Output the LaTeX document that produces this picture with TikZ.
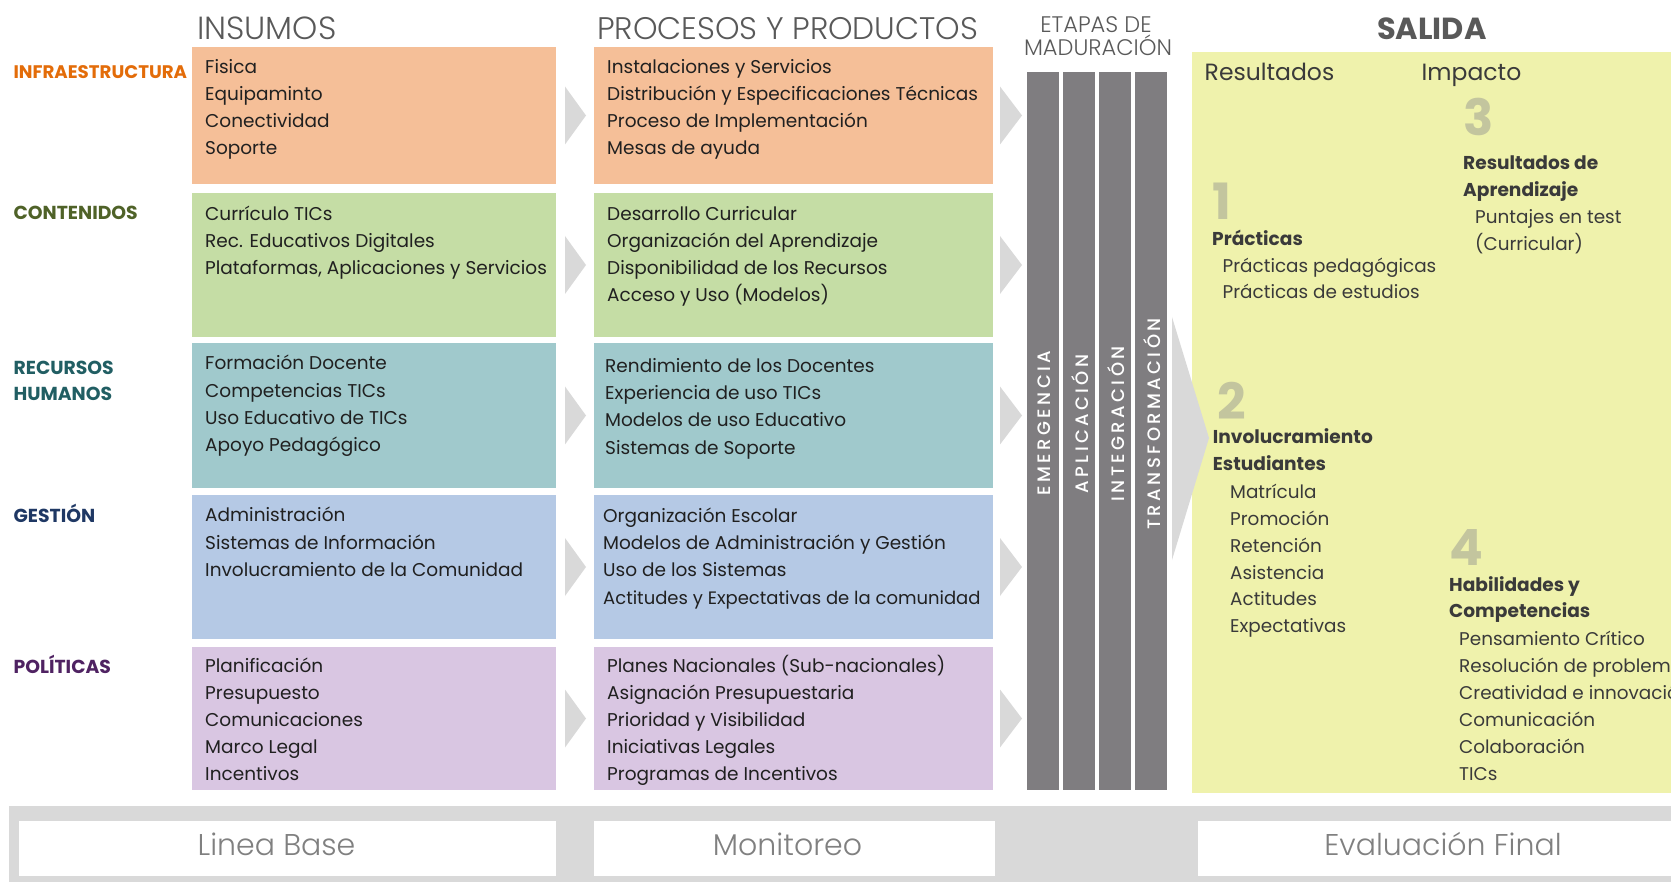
\documentclass[tikz,border=0pt]{standalone}
\usepackage{fontspec}
\setmainfont{Poppins}
\newfontfamily\lightfont{Poppins Light}
\newfontfamily\medfont{Poppins Medium}
\definecolor{orngbox}{HTML}{F5BF98}
\definecolor{grnbox}{HTML}{C5DDA5}
\definecolor{tealbox}{HTML}{A0C9CC}
\definecolor{bluebox}{HTML}{B5C9E5}
\definecolor{purpbox}{HTML}{D9C6E2}
\definecolor{yelbox}{HTML}{EFF2AC}
\definecolor{barc}{HTML}{7F7D80}
\definecolor{chevc}{HTML}{D9D9D9}
\definecolor{bandc}{HTML}{D9D9D9}
\definecolor{hdrc}{HTML}{595959}
\definecolor{txtc}{HTML}{202020}
\definecolor{numc}{HTML}{C3C59E}
\definecolor{lblorng}{HTML}{E36C09}
\definecolor{lblgrn}{HTML}{4F6228}
\definecolor{lblteal}{HTML}{215E63}
\definecolor{lblblue}{HTML}{1F3864}
\definecolor{lblpurp}{HTML}{4F2262}
\definecolor{btmtxt}{HTML}{808080}
\definecolor{saltxt}{HTML}{3A3A3A}
\newcommand\itemlines[5]{%
  \foreach \t [count=\i from 0] in {#5}{\node[itm] (#1\i) at (#2,{#3+#4*\i}) {\t};}}
\newcommand\sallines[5]{%
  \foreach \t [count=\i from 0] in {#5}{\node[salitm] (#1\i) at (#2,{#3+#4*\i}) {\t};}}
\begin{document}
\begin{tikzpicture}[x=1pt,y=-1pt,
  box/.style={draw=none, inner sep=0pt, anchor=north west},
  itm/.style={anchor=base west, inner sep=0pt, text=txtc, font=\fontsize{18.5}{18.5}\selectfont},
  salitm/.style={anchor=base west, inner sep=0pt, text=saltxt, font=\fontsize{18.4}{18.4}\selectfont},
  salbold/.style={anchor=base west, inner sep=0pt, text=saltxt, font=\bfseries\fontsize{18.6}{18.6}\selectfont},
  salnum/.style={anchor=base west, inner sep=0pt, text=numc, font=\bfseries\fontsize{50}{50}\selectfont},
  lbl/.style={anchor=base west, inner sep=0pt, font=\bfseries\fontsize{18.8}{18.8}\selectfont},
  hdr/.style={anchor=base west, inner sep=0pt, text=hdrc, font=\lightfont\fontsize{32}{32}\selectfont},
  hdrs/.style={anchor=base, inner sep=0pt, text=hdrc, font=\lightfont\fontsize{22.5}{22.5}\selectfont},
  stage/.style={rotate=90, inner sep=0pt, text=white, font=\medfont\fontsize{18}{18}\selectfont\addfontfeatures{LetterSpace=19}},
  btm/.style={anchor=base, inner sep=0pt, text=btmtxt, font=\lightfont\fontsize{30}{30}\selectfont},
  chev/.style={fill=chevc, draw=none},
  barbox/.style={box, fill=barc, minimum width=32pt, minimum height=718pt}
]
\useasboundingbox (0,0) rectangle (1671,882);
\clip (0,0) rectangle (1671,882);

% headers
\node[hdr] (hIns) at (197,40) {INSUMOS};
\node[hdr, font=\lightfont\fontsize{31.2}{31.2}\selectfont] (hProc) at (597,40) {PROCESOS Y PRODUCTOS};
\node[hdrs] (hEt1) at (1096,33) {ETAPAS DE};
\node[hdrs] (hEt2) at (1098,56) {MADURACIÓN};
\node[anchor=base west, inner sep=0pt, text=hdrc, font=\bfseries\fontsize{30.5}{30.5}\selectfont] (hSal) at (1377,39.3) {SALIDA};

% input boxes
\node[box, fill=orngbox, minimum width=364pt, minimum height=137pt] (b11) at (192,47) {};
\node[box, fill=grnbox,  minimum width=364pt, minimum height=144pt] (b21) at (192,193) {};
\node[box, fill=tealbox, minimum width=364pt, minimum height=145pt] (b31) at (192,343) {};
\node[box, fill=bluebox, minimum width=364pt, minimum height=144pt] (b41) at (192,495) {};
\node[box, fill=purpbox, minimum width=364pt, minimum height=143pt] (b51) at (192,647) {};
% process boxes
\node[box, fill=orngbox, minimum width=399pt, minimum height=137pt] (b12) at (594,47) {};
\node[box, fill=grnbox,  minimum width=399pt, minimum height=144pt] (b22) at (594,193) {};
\node[box, fill=tealbox, minimum width=399pt, minimum height=145pt] (b32) at (594,343) {};
\node[box, fill=bluebox, minimum width=399pt, minimum height=144pt] (b42) at (594,495) {};
\node[box, fill=purpbox, minimum width=399pt, minimum height=143pt] (b52) at (594,647) {};

% row labels
\node[lbl, text=lblorng, font=\bfseries\fontsize{18.2}{18.2}\selectfont] (l1) at (13.4,78.3) {INFRAESTRUCTURA};
\node[lbl, text=lblgrn] (l2) at (13.4,220) {CONTENIDOS};
\node[lbl, text=lblteal] (l3a) at (13.4,375) {RECURSOS};
\node[lbl, text=lblteal] (l3b) at (13.4,400.7) {HUMANOS};
\node[lbl, text=lblblue] (l4) at (13.4,522) {GESTIÓN};
\node[lbl, text=lblpurp] (l5) at (13.4,673) {POLÍTICAS};

% texts column 1
\itemlines{ta}{205}{74}{26.8}{Fisica, Equipaminto, Conectividad, Soporte}
\itemlines{tb}{205}{220.7}{27}{Currículo TICs, Rec. Educativos Digitales, {Plataformas, Aplicaciones y Servicios}}
\itemlines{tc}{205}{370}{27.2}{Formación Docente, Competencias TICs, Uso Educativo de TICs, Apoyo Pedagógico}
\itemlines{td}{205}{521.7}{27.5}{Administración, Sistemas de Información, Involucramiento de la Comunidad}
\itemlines{te}{205}{672.3}{27.1}{Planificación, Presupuesto, Comunicaciones, Marco Legal, Incentivos}
% texts column 2
\itemlines{pa}{607}{74}{26.8}{Instalaciones y Servicios, Distribución y Especificaciones Técnicas, Proceso de Implementación, Mesas de ayuda}
\itemlines{pb}{607}{220.7}{27}{Desarrollo Curricular, Organización del Aprendizaje, Disponibilidad de los Recursos, Acceso y Uso (Modelos)}
\itemlines{pc}{605}{372.7}{27.1}{Rendimiento de los Docentes, Experiencia de uso TICs, Modelos de uso Educativo, Sistemas de Soporte}
\itemlines{pd}{603}{522.7}{27.1}{Organización Escolar, Modelos de Administración y Gestión, Uso de los Sistemas}
\node[itm, font=\fontsize{18}{18}\selectfont] (pd3) at (603,604) {Actitudes y Expectativas de la comunidad};
\itemlines{pe}{607}{672.7}{27}{Planes Nacionales (Sub-nacionales), Asignación Presupuestaria, Prioridad y Visibilidad, Iniciativas Legales, Programas de Incentivos}

% chevrons between columns
\foreach \yc in {115.5,265,415.5,567,718.5}{
  \fill[chev] (565,\yc-29) -- (586,\yc) -- (565,\yc+29) -- cycle;
  \fill[chev] (1000,\yc-29) -- (1022,\yc) -- (1000,\yc+29) -- cycle;
}

% maturity bars
\node[barbox] (bar1) at (1027,72) {};
\node[barbox] (bar2) at (1063,72) {};
\node[barbox] (bar3) at (1099,72) {};
\node[barbox] (bar4) at (1135,72) {};
\node[stage] (s1) at (1044,423) {EMERGENCIA};
\node[stage] (s2) at (1080,424) {APLICACIÓN};
\node[stage] (s3) at (1116,424) {INTEGRACIÓN};
\node[stage] (s4) at (1152,424) {TRANSFORMACIÓN};

% output box
\node[box, fill=yelbox, minimum width=500pt, minimum height=741pt] (sal) at (1192,52) {};
\fill[chev] (1172,317) -- (1209,438) -- (1172,560) -- cycle;

\node[anchor=base west, inner sep=0pt, text=saltxt, font=\fontsize{23.5}{23.5}\selectfont] (oRes) at (1204.5,81) {Resultados};
\node[anchor=base west, inner sep=0pt, text=saltxt, font=\fontsize{23.5}{23.5}\selectfont] (oImp) at (1421.5,81) {Impacto};

\node[salnum] (n3) at (1463,136) {3};
\node[salbold] (h3a) at (1463,170) {Resultados de};
\node[salbold] (h3b) at (1463,196.7) {Aprendizaje};
\sallines{i3}{1475}{224}{26.7}{Puntajes en test, (Curricular)}

\node[salnum] (n1) at (1212,220) {1};
\node[salbold] (h1) at (1212,246) {Prácticas};
\sallines{i1}{1222.5}{272.7}{25.6}{Prácticas pedagógicas, Prácticas de estudios}

\node[salnum] (n2) at (1217,420) {2};
\node[salbold] (h2a) at (1212.7,443.3) {Involucramiento};
\node[salbold] (h2b) at (1212.7,470) {Estudiantes};
\sallines{i2}{1230}{498.3}{26.9}{Matrícula, Promoción, Retención, Asistencia, Actitudes, Expectativas}

\node[salnum] (n4) at (1449,565) {4};
\node[salbold] (h4a) at (1449,591.7) {Habilidades y};
\node[salbold] (h4b) at (1449,617.3) {Competencias};
\sallines{i4}{1459}{645}{27}{Pensamiento Crítico, Resolución de problemas, Creatividad e innovación, Comunicación, Colaboración, TICs}

% bottom band
\fill[bandc] (9,806) rectangle (1680,882);
\node[box, fill=white, minimum width=537pt, minimum height=55pt] (w1) at (19,821) {};
\node[box, fill=white, minimum width=401pt, minimum height=55pt] (w2) at (594,821) {};
\node[box, fill=white, minimum width=490pt, minimum height=55pt] (w3) at (1198,821) {};
\node[btm] (bt1) at (276.5,855) {Linea Base};
\node[btm] (bt2) at (787.5,855) {Monitoreo};
\node[btm] (bt3) at (1443,855) {Evaluación Final};
\end{tikzpicture}
\end{document}
